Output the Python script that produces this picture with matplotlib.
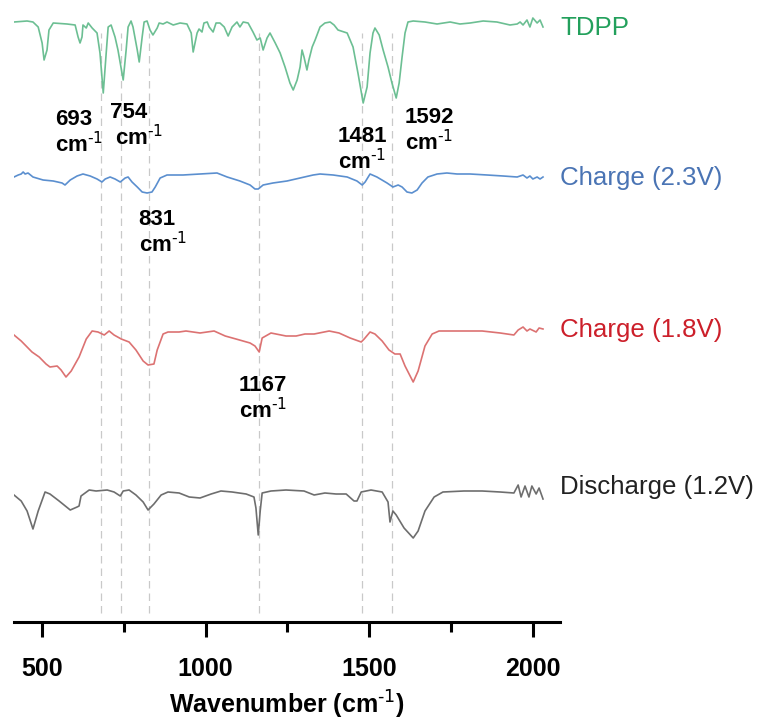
import numpy as np
import matplotlib
matplotlib.use("Agg")
import matplotlib.pyplot as plt
from matplotlib.ticker import MultipleLocator

plt.rcParams['font.family'] = ['Liberation Sans', 'DejaVu Sans']
plt.rcParams['mathtext.default'] = 'regular'

# spectra: wavenumber (cm-1) and relative intensity (a.u.)
tdpp_wn = [414, 454, 472, 488, 500, 506, 515, 521, 534, 576, 601, 610, 616, 622, 625, 635, 641, 653,
           668, 677, 687, 696, 702, 711, 723, 732, 748, 757, 763, 772, 778, 791, 797, 806, 812, 821,
           830, 839, 852, 858, 870, 882, 901, 922, 943, 956, 962, 974, 980, 989, 995, 1005, 1011,
           1023, 1032, 1044, 1057, 1069, 1081, 1096, 1105, 1115, 1130, 1145, 1157, 1167, 1176, 1188,
           1197, 1213, 1228, 1243, 1258, 1268, 1280, 1289, 1295, 1301, 1310, 1316, 1326, 1335, 1350,
           1365, 1381, 1393, 1405, 1433, 1451, 1466, 1482, 1494, 1503, 1512, 1518, 1531, 1543, 1558,
           1570, 1583, 1592, 1601, 1610, 1619, 1635, 1671, 1708, 1748, 1778, 1809, 1849, 1891, 1931,
           1953, 1962, 1971, 1983, 1992, 2001, 2014, 2023, 2032]
tdpp_int = [0.00, 0.01, 0.00, -0.05, -0.21, -0.38, -0.28, -0.08, -0.01, -0.02, -0.03, -0.15, -0.21,
            -0.15, -0.03, -0.06, -0.01, -0.06, -0.11, -0.31, -0.71, -0.31, -0.05, -0.03, -0.15, -0.28,
            -0.58, -0.28, -0.05, 0.01, -0.05, -0.28, -0.40, -0.15, 0.00, 0.01, -0.08, -0.13, -0.06,
            -0.01, -0.02, 0.00, -0.03, -0.01, -0.02, -0.11, -0.30, -0.11, -0.07, -0.10, -0.01, 0.00,
            -0.05, -0.10, -0.01, -0.01, -0.05, -0.14, -0.05, 0.00, -0.05, 0.00, -0.01, -0.10, -0.18,
            -0.16, -0.28, -0.16, -0.11, -0.21, -0.31, -0.45, -0.61, -0.68, -0.58, -0.45, -0.28, -0.35,
            -0.48, -0.38, -0.25, -0.18, -0.05, -0.01, 0.00, -0.03, -0.08, -0.11, -0.25, -0.51, -0.81,
            -0.65, -0.31, -0.11, -0.06, -0.13, -0.28, -0.45, -0.61, -0.76, -0.61, -0.35, -0.11, 0.00,
            0.01, 0.00, -0.02, 0.00, -0.02, -0.01, 0.01, 0.00, -0.03, -0.02, 0.00, -0.03, 0.02, -0.05,
            0.04, -0.01, 0.02, -0.05]

ch23_wn = [414, 427, 436, 442, 448, 457, 472, 503, 534, 561, 570, 586, 607, 625, 647, 668, 683, 693,
           708, 723, 739, 754, 763, 775, 791, 806, 821, 836, 846, 861, 882, 931, 983, 1035, 1066,
           1105, 1136, 1151, 1161, 1176, 1206, 1249, 1289, 1329, 1350, 1390, 1433, 1463, 1479, 1488,
           1503, 1524, 1555, 1573, 1589, 1601, 1616, 1631, 1647, 1662, 1680, 1708, 1738, 1769, 1809,
           1861, 1910, 1953, 1971, 1983, 1992, 2001, 2014, 2023, 2032]
ch23_int = [-0.02, 0.00, 0.01, 0.03, 0.01, 0.02, -0.02, -0.05, -0.06, -0.08, -0.10, -0.05, -0.01,
            0.01, -0.01, -0.04, -0.07, -0.04, -0.02, -0.04, -0.07, -0.03, -0.02, -0.07, -0.12, -0.17,
            -0.18, -0.17, -0.12, -0.03, 0.00, 0.00, 0.01, 0.02, -0.02, -0.06, -0.10, -0.14, -0.14,
            -0.10, -0.08, -0.06, -0.03, 0.00, 0.01, 0.00, -0.02, -0.06, -0.10, -0.07, 0.01, -0.02,
            -0.08, -0.12, -0.10, -0.12, -0.17, -0.18, -0.15, -0.08, -0.02, 0.01, 0.02, 0.01, 0.01,
            0.00, -0.01, -0.02, 0.00, -0.03, -0.01, -0.04, -0.02, -0.04, -0.02]

ch18_wn = [414, 436, 469, 491, 512, 524, 546, 558, 573, 589, 613, 635, 653, 671, 690, 705, 720, 742,
           766, 787, 809, 824, 842, 852, 870, 885, 919, 940, 983, 1026, 1060, 1093, 1136, 1151, 1164,
           1173, 1200, 1246, 1277, 1304, 1332, 1378, 1408, 1442, 1476, 1485, 1503, 1518, 1540, 1561,
           1579, 1595, 1610, 1635, 1650, 1671, 1693, 1714, 1790, 1846, 1901, 1943, 1956, 1971, 1983,
           1992, 2011, 2020, 2032]
ch18_int = [-0.04, -0.10, -0.21, -0.26, -0.33, -0.36, -0.35, -0.39, -0.46, -0.40, -0.26, -0.08, 0.00,
            -0.01, -0.04, 0.00, -0.04, -0.08, -0.11, -0.19, -0.30, -0.34, -0.33, -0.19, -0.03, -0.01,
            -0.01, 0.00, -0.02, 0.00, -0.05, -0.08, -0.12, -0.15, -0.21, -0.07, -0.02, -0.05, -0.05,
            -0.03, -0.03, 0.00, -0.02, -0.07, -0.11, -0.08, -0.01, -0.03, -0.10, -0.19, -0.23, -0.23,
            -0.35, -0.51, -0.40, -0.15, -0.03, 0.00, 0.00, 0.00, -0.02, -0.04, 0.01, 0.04, 0.00, 0.02,
            -0.01, 0.03, 0.02]

dis12_wn = [414, 436, 454, 472, 488, 509, 524, 552, 586, 607, 613, 619, 644, 665, 699, 720, 739, 748,
            766, 787, 809, 824, 842, 864, 885, 919, 950, 983, 1017, 1047, 1081, 1124, 1148, 1154,
            1161, 1167, 1173, 1200, 1246, 1301, 1332, 1365, 1399, 1430, 1454, 1463, 1476, 1506, 1540,
            1558, 1564, 1573, 1583, 1607, 1635, 1650, 1671, 1699, 1726, 1790, 1846, 1901, 1943, 1956,
            1965, 1977, 1989, 1998, 2011, 2020, 2032]
dis12_int = [-0.04, -0.10, -0.20, -0.38, -0.20, -0.01, -0.03, -0.10, -0.19, -0.16, -0.15, -0.05,
             0.01, 0.00, 0.01, -0.01, -0.05, 0.00, 0.01, -0.04, -0.11, -0.19, -0.13, -0.04, -0.01,
             -0.02, -0.06, -0.07, -0.03, 0.00, -0.01, -0.03, -0.06, -0.17, -0.44, -0.20, -0.02, 0.00,
             0.01, 0.00, -0.04, -0.02, -0.03, -0.03, -0.10, -0.10, -0.01, 0.01, -0.01, -0.11, -0.31,
             -0.20, -0.24, -0.37, -0.47, -0.40, -0.20, -0.06, -0.01, 0.00, 0.00, -0.01, -0.02, 0.06,
             -0.06, 0.05, -0.06, 0.05, -0.03, 0.03, -0.08]

names = ['TDPP', 'Charge (2.3V)', 'Charge (1.8V)', 'Discharge (1.2V)']
offsets = [6.00, 4.47, 2.91, 1.31]
label_y = [5.94, 4.44, 2.92, 1.35]
line_colors = ['#6cbf93', '#5b8fcf', '#dc7272', '#6e6e6e']
text_colors = ['#23a05c', '#4a74b4', '#cc1f2a', '#222222']

# marked peaks: label text, dashed line position, label anchor (x, y)
peak_labels = ['693', '754', '831', '1167', '1481', '1592']
peak_lines = [680, 740, 828, 1162, 1479, 1571]
peak_text_x = [540, 708, 794, 1102, 1405, 1610]
peak_text_y = [4.97, 5.04, 3.97, 2.31, 4.80, 4.99]
cm_text_x = [540, 723, 797, 1102, 1405, 1610]

spectra = [(tdpp_wn, tdpp_int), (ch23_wn, ch23_int), (ch18_wn, ch18_int), (dis12_wn, dis12_int)]

fig = plt.figure(figsize=(7.59, 7.22), dpi=100)
ax = fig.add_axes([14 / 759, 100 / 722, 546 / 759, 617 / 722])

ax.vlines(peak_lines, 0.09, 5.89, colors='#c9c9c9', linestyles=(0, (6, 4)), linewidth=0.9, zorder=1)

for (wn, val), off, name, lc, tc, ly in zip(spectra, offsets, names, line_colors, text_colors, label_y):
    ax.plot(wn, np.array(val) + off, color=lc, lw=1.2, zorder=2)
    ax.text(2085, ly, name, color=tc, fontsize=18.6, va='center', ha='left')

for lab, tx, ty, cx in zip(peak_labels, peak_text_x, peak_text_y, cm_text_x):
    ax.text(tx, ty, lab, fontsize=16, fontweight='bold', va='baseline', ha='left')
    ax.text(cx, ty - 0.27, 'cm$^{\\text{-1}}$', fontsize=16, fontweight='bold', va='baseline', ha='left')

ax.set_xlim(414, 2084)
ax.set_ylim(0, 6.17)
for s in ['left', 'top', 'right']:
    ax.spines[s].set_visible(False)
ax.spines['bottom'].set_linewidth(2.2)
ax.set_yticks([])
ax.xaxis.set_major_locator(MultipleLocator(500))
ax.xaxis.set_minor_locator(MultipleLocator(250))
ax.tick_params(axis='x', which='major', length=11, width=2.2, pad=14, labelsize=18)
ax.tick_params(axis='x', which='minor', length=7, width=2.2)
for t in ax.get_xticklabels():
    t.set_fontweight('bold')
ax.set_xlabel('Wavenumber (cm$^{\\text{-1}}$)', fontsize=18, fontweight='bold', labelpad=6)

fig.savefig('out.png', dpi=100)
